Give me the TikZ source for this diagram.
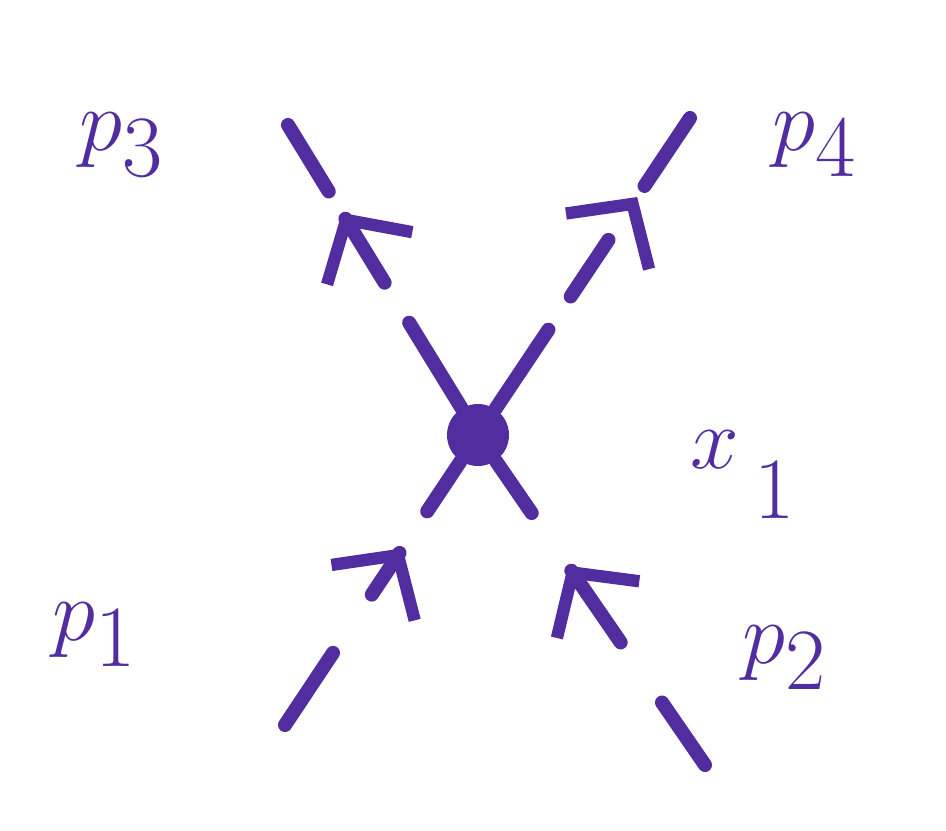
\documentclass[tikz,border=0pt]{standalone}
\usepackage{amsmath}
\usetikzlibrary{arrows.meta,decorations.markings}
\definecolor{penblue}{RGB}{82,45,160}
\tikzset{
  leg/.style={penblue,line width=4pt,line cap=round},
  outarrow/.style={postaction={decorate,decoration={markings,
      mark=at position #1 with {\arrow[penblue,line width=3.5pt,solid]{Straight Barb[length=4.5mm,width=10mm]}}}}},
  inarrow/.style={postaction={decorate,decoration={markings,
      mark=at position #1 with {\arrowreversed[penblue,line width=3.5pt,solid]{Straight Barb[length=4.5mm,width=10mm]}}}}},
  lbl/.style={penblue,font=\fontsize{56}{60}\selectfont}
}
\begin{document}
\begin{tikzpicture}
\useasboundingbox (0,0) rectangle (9.46,8.30);

% vertex
\node[circle,fill=penblue,inner sep=0pt,minimum size=0.62cm] (v) at (4.78,3.95) {};

% external ends
\coordinate (e1) at (2.85,1.05);
\coordinate (e2) at (7.05,0.65);
\coordinate (e3) at (2.88,7.05);
\coordinate (e4) at (6.90,7.12);

% legs (dashes counted from the vertex)
\draw[leg,dash pattern=on 0.6cm off 0.5cm on 0.5cm off 0.7cm on 1.2cm,inarrow=0.33] (v) -- (e1);
\draw[leg,dash pattern=on 0.63cm off 0.7cm on 0.87cm off 0.73cm on 1.2cm,inarrow=0.345] (v) -- (e2);
\draw[leg,dash pattern=on 1.0cm off 0.47cm on 0.75cm off 0.32cm on 1.2cm,outarrow=0.69] (v) -- (e3);
\draw[leg,dash pattern=on 0.95cm off 0.4cm on 0.68cm off 0.65cm on 1.2cm,outarrow=0.73] (v) -- (e4);

% labels
\node[lbl] (p1) at (0.95,1.95) {$p_1$};
\node[lbl] (p2) at (7.85,1.72) {$p_2$};
\node[lbl] (p3) at (1.22,6.85) {$p_3$};
\node[lbl] (p4) at (8.15,6.85) {$p_4$};
\node[lbl,anchor=base west,inner sep=0pt] (x1) at (6.9,3.62) {$x$\hspace{0.15cm}\raisebox{-0.5cm}{\fontsize{46}{50}\selectfont$1$}};

\end{tikzpicture}
\end{document}
